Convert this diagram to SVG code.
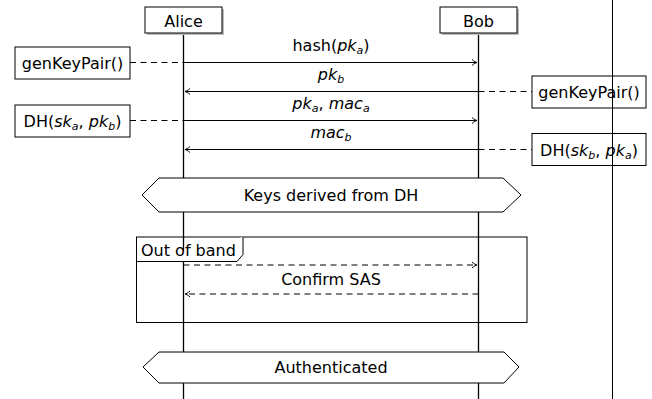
<svg xmlns="http://www.w3.org/2000/svg" width="652" height="399" viewBox="0 0 652 399">
<defs>
<style>
text{font-family:"DejaVu Sans","Liberation Sans",sans-serif;font-size:16px;fill:#000}
.it{font-style:italic}
.sub{font-style:italic;font-size:11px}
.box{fill:#fff;stroke:#000;stroke-width:1}
.shadow{fill:#bdbdbd;stroke:none}
.life{stroke:#000;stroke-width:1.3;fill:none}
.msg{stroke:#000;stroke-width:1;fill:none}
.dash{stroke:#000;stroke-width:1;fill:none;stroke-dasharray:6 4.5}
</style>
<marker id="ah" viewBox="-6 -4 7 8" refX="0" refY="0" markerWidth="7" markerHeight="8" markerUnits="userSpaceOnUse" orient="auto">
<path d="M-5,-3 C-3,-1 -1,-0.3 0,0 C-1,0.3 -3,1 -5,3" fill="none" stroke="#000" stroke-width="1"/>
</marker>
</defs>
<rect width="652" height="399" fill="#fff"/>

<g id="lifelines">
<line class="life" x1="183.5" y1="33" x2="183.5" y2="399"/>
<line class="life" x1="478.5" y1="33" x2="478.5" y2="399"/>
</g>

<g id="alice">
<rect class="shadow" x="147" y="9" width="77" height="26"/>
<rect class="box" x="145" y="7" width="77" height="26"/>
<text x="183.5" y="27" text-anchor="middle">Alice</text>
</g>
<g id="bob">
<rect class="shadow" x="442" y="9" width="77" height="26"/>
<rect class="box" x="440" y="7" width="77" height="26"/>
<text x="478.5" y="27" text-anchor="middle">Bob</text>
</g>

<g id="connectors">
<line class="dash" x1="130" y1="62.5" x2="183.5" y2="62.5"/>
<line class="msg" x1="183.5" y1="62.5" x2="477" y2="62.5" marker-end="url(#ah)"/>
<line class="dash" x1="478.5" y1="91.5" x2="532" y2="91.5"/>
<line class="msg" x1="478.5" y1="91.5" x2="185" y2="91.5" marker-end="url(#ah)"/>
<line class="dash" x1="130" y1="120.5" x2="183.5" y2="120.5"/>
<line class="msg" x1="183.5" y1="120.5" x2="477" y2="120.5" marker-end="url(#ah)"/>
<line class="dash" x1="478.5" y1="149.5" x2="532" y2="149.5"/>
<line class="msg" x1="478.5" y1="149.5" x2="185" y2="149.5" marker-end="url(#ah)"/>
<line class="dash" x1="183.5" y1="265" x2="477" y2="265" marker-end="url(#ah)" stroke-dasharray="6 4"/>
<line class="dash" x1="478.5" y1="294" x2="185" y2="294" marker-end="url(#ah)" stroke-dasharray="6 4"/>
</g>

<g id="labels">
<text x="331" y="51" text-anchor="middle">hash(<tspan class="it">pk</tspan><tspan class="sub" dy="3">a</tspan><tspan dy="-3">)</tspan></text>
<text x="331" y="80" text-anchor="middle"><tspan class="it">pk</tspan><tspan class="sub" dy="3">b</tspan></text>
<text x="331" y="109" text-anchor="middle"><tspan class="it">pk</tspan><tspan class="sub" dy="3">a</tspan><tspan dy="-3">, </tspan><tspan class="it">mac</tspan><tspan class="sub" dy="3">a</tspan></text>
<text x="331" y="138" text-anchor="middle"><tspan class="it">mac</tspan><tspan class="sub" dy="3">b</tspan></text>
<text x="331" y="285" text-anchor="middle">Confirm SAS</text>
</g>

<g id="genKeyPair-a">
<rect class="box" x="15" y="47" width="115" height="32"/>
<text x="72.5" y="69" text-anchor="middle">genKeyPair()</text>
</g>
<g id="dh-a">
<rect class="box" x="15" y="105" width="115" height="32"/>
<text x="72.5" y="127" text-anchor="middle">DH(<tspan class="it">sk</tspan><tspan class="sub" dy="3">a</tspan><tspan dy="-3">, </tspan><tspan class="it">pk</tspan><tspan class="sub" dy="3">b</tspan><tspan dy="-3">)</tspan></text>
</g>
<g id="genKeyPair-b">
<rect class="box" x="532" y="76" width="114" height="32"/>
<text x="589" y="98" text-anchor="middle">genKeyPair()</text>
</g>
<g id="dh-b">
<rect class="box" x="532" y="133.5" width="114" height="32"/>
<text x="589" y="155.5" text-anchor="middle">DH(<tspan class="it">sk</tspan><tspan class="sub" dy="3">b</tspan><tspan dy="-3">, </tspan><tspan class="it">pk</tspan><tspan class="sub" dy="3">a</tspan><tspan dy="-3">)</tspan></text>
</g>

<g id="keys-derived">
<polygon class="box" points="142,195 159,178 503,178 521,195 503,212 159,212"/>
<text x="331" y="201" text-anchor="middle">Keys derived from DH</text>
</g>

<g id="out-of-band">
<rect x="136.5" y="237" width="390.5" height="85.5" fill="none" stroke="#000" stroke-width="1"/>
<path d="M136.5,261.5 H237 L243,254.5 V237" fill="#fff" stroke="#000" stroke-width="1"/>
<text x="141" y="256">Out of band</text>
</g>

<g id="authenticated">
<polygon class="box" points="143,367 159,352 504,352 519,367 504,383 159,383"/>
<text x="331" y="373" text-anchor="middle">Authenticated</text>
</g>

<g id="page-edge">
<line x1="612.5" y1="0" x2="612.5" y2="399" stroke="#000" stroke-width="1"/>
</g>
</svg>
